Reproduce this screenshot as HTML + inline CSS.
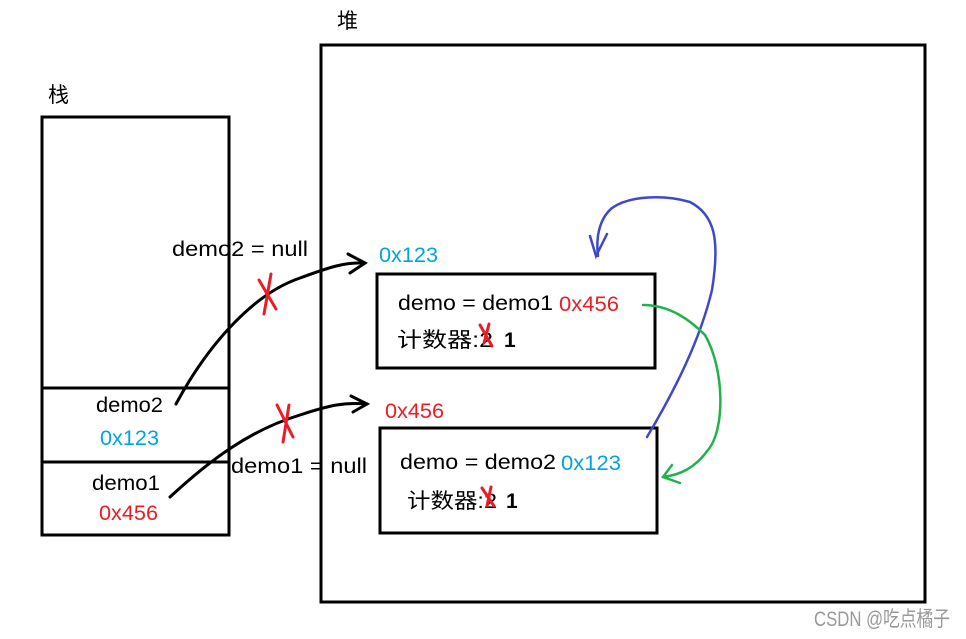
<!DOCTYPE html>
<html><head><meta charset="utf-8"><style>
html,body{margin:0;padding:0;background:#fff;}
svg{display:block;}
text{font-family:"Liberation Sans","Noto Sans CJK SC",sans-serif;font-size:21px;}
</style></head><body>
<svg width="966" height="639" viewBox="0 0 966 639" xmlns="http://www.w3.org/2000/svg">
<g fill="none" stroke="#000" stroke-width="3">
<rect x="42" y="117" width="187" height="418"/>
<line x1="42" y1="388" x2="229" y2="388"/>
<line x1="42" y1="462" x2="229" y2="462"/>
<rect x="321" y="45" width="604" height="557"/>
<rect x="377" y="274" width="278" height="94"/>
<rect x="380" y="428" width="277" height="105"/>
</g>
<text x="48" y="102" font-size="20">栈</text>
<text x="337" y="28" font-size="20">堆</text>
<text x="96" y="412" textLength="67" lengthAdjust="spacingAndGlyphs">demo2</text>
<text x="100" y="445" fill="#00a2e8" textLength="59" lengthAdjust="spacingAndGlyphs">0x123</text>
<text x="92" y="490" textLength="68" lengthAdjust="spacingAndGlyphs">demo1</text>
<text x="99" y="520" fill="#ed1c24" textLength="59" lengthAdjust="spacingAndGlyphs">0x456</text>
<text x="172" y="256" textLength="136" lengthAdjust="spacingAndGlyphs">demo2 = null</text>
<text x="231" y="473" textLength="136" lengthAdjust="spacingAndGlyphs">demo1 = null</text>
<text x="379" y="262" fill="#00a2e8" textLength="59" lengthAdjust="spacingAndGlyphs">0x123</text>
<text x="385" y="418" fill="#ed1c24" textLength="59" lengthAdjust="spacingAndGlyphs">0x456</text>
<text x="398" y="310" textLength="155" lengthAdjust="spacingAndGlyphs">demo = demo1</text>
<text x="559" y="311" fill="#ed1c24" textLength="60" lengthAdjust="spacingAndGlyphs">0x456</text>
<text x="397" y="347" font-size="20" textLength="96" lengthAdjust="spacingAndGlyphs">计数器:2</text>
<text x="504" y="347" font-weight="bold">1</text>
<text x="400" y="469" textLength="156" lengthAdjust="spacingAndGlyphs">demo = demo2</text>
<text x="561" y="470" fill="#00a2e8" textLength="60" lengthAdjust="spacingAndGlyphs">0x123</text>
<text x="407" y="508" font-size="20" textLength="90" lengthAdjust="spacingAndGlyphs">计数器:2</text>
<text x="506" y="508" font-weight="bold">1</text>
<text x="814" y="626" font-size="15" fill="#999" textLength="136" lengthAdjust="spacingAndGlyphs">CSDN @吃点橘子</text>
<g fill="none" stroke="#000" stroke-width="3" stroke-linecap="round">
<path d="M176 404 C205 350 250 295 300 278 C330 267 345 262 365 263"/>
<path d="M348 254 L365 263 L350 273"/>
<path d="M170 497 C210 460 250 430 300 415 C330 405 345 402 367 404"/>
<path d="M351 396 L367 404 L353 412"/>
</g>
<g fill="none" stroke="#ed1c24" stroke-width="3" stroke-linecap="round">
<path d="M259 280 L276 309 M271 274 L264 314"/>
<path d="M277 405 L293 437 M289 405 L283 442"/>
<path d="M480 325 L492 346 M489 324 L484 343"/>
<path d="M482 488 L494 506 M491 487 L487 506"/>
</g>
<g fill="none" stroke="#3f48cc" stroke-width="2.5" stroke-linecap="round">
<path d="M647 437 C675 390 700 340 712 290 C720 240 715 215 690 202 C665 195 630 195 612 208 C598 220 596 240 598 256"/>
<path d="M590 236 L596 256 L607 234"/>
</g>
<g fill="none" stroke="#22b14c" stroke-width="2.5" stroke-linecap="round">
<path d="M643 305 C670 305 690 320 705 335 C725 370 725 430 708 450 C695 468 680 475 663 477"/>
<path d="M672 465 L663 477 L680 483"/>
</g>
</svg>
</body></html>
